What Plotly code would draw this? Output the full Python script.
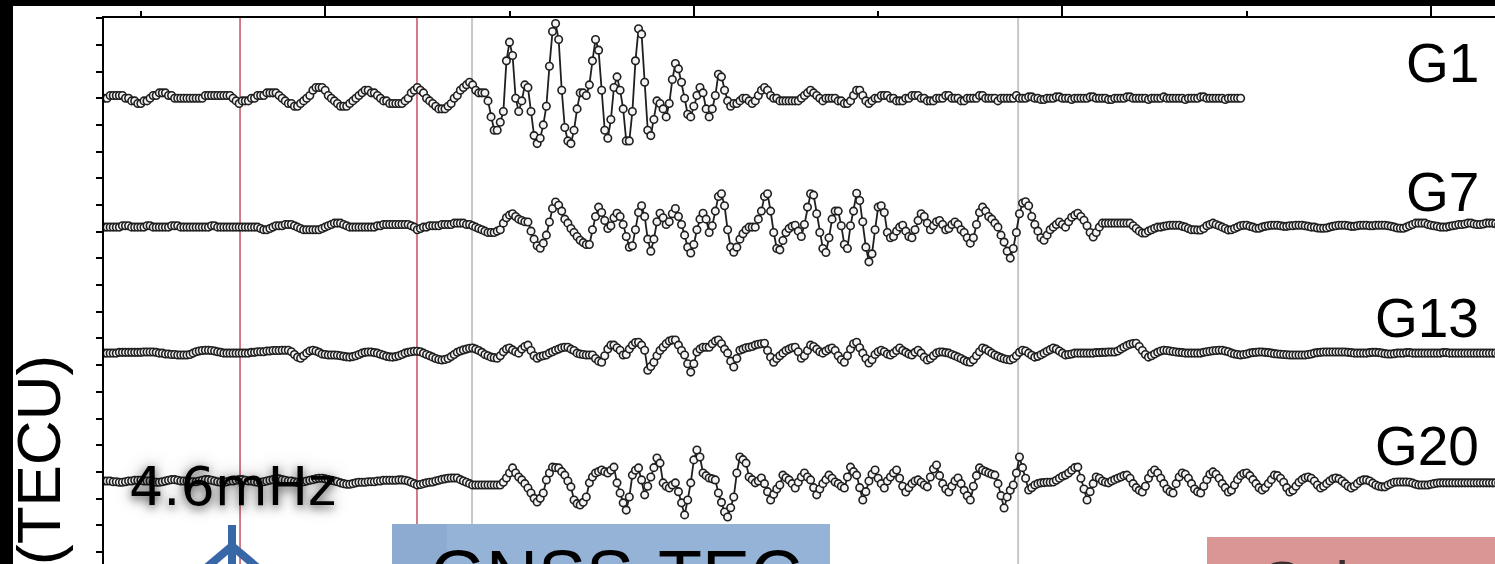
import plotly.graph_objects as go

# Sampling of the filtered TEC series (minutes)
T0_MIN = 12.0
DT_MIN = 0.25

# Filtered TEC changes, in units of 0.01 TECU, one value per 15-s epoch
g1_dtec = [
    0, 0, 1, 1, 1, 1, 1, 0, 0, -1,
    -1, -2, -2, -1, -1, 0, 1, 1, 2, 2,
    2, 1, 1, 0, 0, 0, 0, 0, 0, 0,
    0, 0, 0, 1, 1, 1, 1, 1, 1, 1,
    1, 1, 0, -1, -2, -1, -1, -1, 0, 0,
    1, 1, 1, 2, 2, 2, 2, 1, 0, -1,
    -2, -2, -3, -3, -2, -1, 0, 1, 3, 4,
    4, 4, 3, 1, 0, -1, -2, -3, -3, -3,
    -2, -1, 0, 1, 2, 3, 3, 2, 2, 1,
    0, -1, -1, -2, -2, -2, -2, -2, -1, 0,
    2, 3, 4, 3, 2, 0, -1, -2, -3, -4,
    -4, -4, -3, -2, 0, 1, 3, 4, 5, 6,
    5, 3, 2, 2, 2, -1, -7, -12, -12, -9,
    -5, 14, 21, 16, 0, -5, -1, 5, 4, -5,
    -14, -17, -15, -10, -3, 12, 25, 28, 22, 3,
    -11, -16, -17, -12, -4, 2, 2, 1, 5, 14,
    22, 18, 3, -12, -15, -8, 4, 8, 3, -4,
    -16, -16, -5, 14, 26, 24, 6, -12, -14, -8,
    -1, -2, -4, -7, -2, 7, 13, 11, 6, 0,
    -6, -7, -3, 1, 4, 2, -4, -7, -4, 1,
    9, 8, 3, -1, -3, -2, -2, -1, 0, 0,
    -1, -2, -1, 1, 3, 4, 3, 1, 0, 0,
    -1, -1, -1, -1, -1, -1, -1, 0, 1, 2,
    3, 2, 1, 0, -1, 0, 0, 0, 0, -1,
    -1, -2, -2, -1, 1, 3, 3, 1, -1, -2,
    -1, 0, 0, 1, 1, 1, 0, 0, -1, -1,
    -1, 0, 0, 1, 1, 1, 0, 0, -1, -1,
    -1, 0, 0, 0, 1, 1, 0, 0, 0, -1,
    -1, 0, 0, 0, 0, 1, 1, 0, 0, 0,
    0, -1, 0, 0, 0, 0, 0, 1, 0, 0,
    0, 0.5, 0.5, 0, 0, -0.5, -0.5, 0, 0, 0,
    0.5, 0.5, 0, 0, 0, -0.5, 0, 0, 0, 0,
    0, 0.5, 0.5, 0, 0, 0, 0, -0.5, -0.5, 0,
    0, 0, 0, 0.5, 0.5, 0, 0, 0, 0, 0,
    -0.5, 0, 0, 0, 0, 0.5, 0, 0, 0, 0,
    0, 0, -0.5, 0, 0, 0, 0, 0.5, 0.5, 0,
    0, 0, 0, 0, 0, -0.5, 0, 0, 0, 0, 0,
]

g7_dtec = [
    0, 0, 0, 0, 0, 0, 0.5, 0.5, 0.5, 0,
    0, 0, 0, 0, 0.5, 0.5, 0, 0, 0, 0,
    0, 0, 0.5, 0.5, 0.5, 0, 0, 0, 0, 0,
    0, 0, 0, 0, 0, 0.5, 0.5, 0, 0, 0,
    0, 0, 0, 0, 0, 0, 0, 0, 0, 0,
    0, -0.5, -1, -1, -0.5, 0, 0.5, 0.5, 0.5, 1,
    1, 1, 0.5, 0, -0.5, -1, -1, -1, -1, -1,
    -1, -0.5, 0, 0.5, 1, 1.5, 1.5, 1.5, 1, 0.5,
    0, 0, 0, 0, 0, 0, 0, 0, 0, 0.5,
    0.5, 1, 1, 1, 1, 1, 1, 1, 1, 1,
    0.5, 0, -1, -0.5, 0, 0, 0.5, 0.5, 0.5, 0.5,
    1, 1, 1, 1, 1.5, 1.5, 1.5, 1.5, 1, 1,
    0.5, 0, -0.5, -1, -1.5, -2, -2, -2, -1.5, -1,
    1.5, 3.5, 4.5, 5, 4, 3, 2.5, 2, 1.9, -1.5,
    -4.5, -7, -7.9, -6, -3, 1.9, 7, 9.4, 8.2, 6,
    3, 1.5, -0.5, -2, -3.5, -4.9, -5.8, -6.5, -6.5, -1,
    4, 7.5, 5.5, 2.5, -0.5, 0.5, 3.5, 5.2, 4, 1,
    -3.5, -7.5, -7, -1, 5.5, 8, 4, -4.5, -9, -4.5,
    2, 5.2, 3.5, 1, 2, 5, 7, 4, 1, -3,
    -7.5, -9.7, -6.5, -1, 3, 5.2, 3, -2, 0.5, 6,
    11.5, 12.5, 8, -1, -7.5, -9.4, -7.5, -4.5, -2.5, -1,
    0, 0, 0, 3, 6, 11.5, 12.5, 6, -2, -8,
    -8.5, -5, -2, -0.5, 0.3, 0.7, -1.5, -3.5, 1, 7.5,
    12.5, 12, 5, -2, -8, -9.5, -4, 3, 6, 6,
    0.5, -6.5, -8, 0.5, 6, 12.7, 10, 2, -7.5, -13,
    -10, -1, 7.5, 8, 5.5, -2, -4, -3.5, -1.5, 0,
    0.7, -1.5, -3.5, -4, -1, 2.5, 5, 4, 1.5, -1,
    0.5, 2, 2.5, 1, -1, -0.5, 1, 1.9, 1, -1,
    -2, -4, -6, -4, 1, 5.5, 7.5, 6, 4, 3,
    1.5, 0, -3, -5.6, -9, -11.6, -8, -2, 5, 9,
    9.5, 8, 4, 1, -1.5, -4, -4.9, -3, -1, 0,
    1, 1.9, 1, 0, 2, 3.7, 4.5, 5.2, 4, 2.6,
    0.5, -2, -3.7, -2, 0, 1.5, 1.5, 1.5, 1.5, 1.5,
    1.5, 1.5, 1.5, 1.5, 1.5, 0.5, -0.5, -1.5, -2.2, -2.2,
    -1.5, -1, -0.4, 0, 0, 0.3, 0.5, 0.7, 0.7, 0.7,
    0.7, 0.3, 0, -0.5, -1, -1, -1.1, -1.1, -0.5, 0.5,
    1, 1.5, 1, 0.5, 0, -0.5, -1.1, -1, -0.5, 0,
    0.5, 0.7, 0.7, 0.3, 0, -0.4, -0.4, 0, 0.3, 0.5,
    0.7, 0.7, 0.7, 0.5, 0.3, 0.3, 0.5, 0.5, 0.7, 0.7,
    0.7, 0.5, 0.3, 0, 0, -0.3, -0.4, -0.4, -0.3, 0,
    0.3, 0.5, 0.7, 0.7, 0.7, 0.5, 0.3, 0.3, 0.5, 0.7,
    0.7, 0.7, 0.5, 0.5, 0.7, 0.7, 0.7, 0.7, 0.5, 0.3,
    0, -0.3, -0.4, -0.4, 0, 0.5, 1, 1.5, 1.5, 1.5,
    1.5, 1, 0.7, 0.5, 0.3, 0, 0, 0, 0.3, 0.5,
    0.7, 1, 1, 1.2, 1.5, 1.5, 1.2, 1, 1, 1.2,
    1.5, 1.5, 1.5, 1.3, 1, 1,
]

g13_dtec = [
    0, 0, 0, 0, 0, 0.3, 0.3, 0.3, 0.3, 0.3,
    0.3, 0.3, 0.3, 0.4, 0.4, 0.4, 0.4, 0.3, 0, 0,
    -0.3, -0.3, -0.5, -0.5, -0.7, -0.7, -0.7, -0.7, -0.5, 0,
    0.5, 0.8, 1, 1.1, 1.1, 1, 0.8, 0.5, 0.3, 0,
    0, 0, 0, 0, 0, 0, 0, 0, 0.3, 0.3,
    0.5, 0.5, 0.5, 0.8, 0.8, 1, 1, 1, 1.1, 1.1,
    1.1, 0.5, -0.5, -1.5, -1.9, -1, 0, 0.8, 1.1, 0.8,
    0.3, -0.3, -0.5, -0.7, -0.7, -0.7, -0.8, -1, -1.2, -1.4,
    -1.5, -1.3, -1, -0.5, 0, 0.3, 0.4, 0.4, 0.2, 0,
    -0.4, -0.8, -1.2, -1.4, -1.5, -1.3, -1, -0.5, 0, 0.3,
    0.5, 0.7, 0.7, 0.5, 0, -0.5, -1, -1.5, -2, -2.4,
    -2.6, -2.4, -2, -1.3, -0.5, 0.3, 0.8, 1.2, 1.5, 1.8,
    1.9, 1.5, 1, 0.3, -0.5, -1, -1.5, -1.7, -1.9, -1,
    0.5, 1.5, 1.9, 1.2, 0.5, 0, 1.5, 2.5, 3, 1,
    -1, -1.9, -1.3, -1, -0.7, 0, 0.5, 1.1, 1.5, 2,
    2.2, 2.2, 1.5, 1, 0, -0.3, -0.5, -0.7, -0.7, -0.7,
    -2, -3, -3.4, -1, 1.5, 3, 3, 2, 1.1, -0.7,
    -0.5, 1.5, 3, 4, 4.1, 3, 1.1, -6.4, -5, -3.4,
    -1, 1, 2.2, 3.5, 4.5, 4.9, 4.9, 3, 1, -0.7,
    -4, -7.1, -4, 0.4, 1.5, 2.2, 2.2, 2.2, 3.5, 4.5,
    4.9, 3.5, 1.5, 0, -3, -5.2, -2, 1.1, 1.5, 2,
    2.2, 2.5, 3, 3.3, 3.5, 3.7, 1, -1.5, -3.4, -2,
    -1, 0, 1, 1.5, 2, 2.2, 0.5, -1.9, -1, 1,
    3, 2.5, 1.5, 0.5, 0, 0.8, 1.5, 1.9, 1, -1,
    -2.5, -3.4, -1, 1.5, 3.5, 4.1, 2, 0, -2, -3.7,
    -2.5, -0.5, 0.5, 1.1, 0.5, -0.3, -0.7, 0, 1, 1.9,
    1, 0.3, -0.3, -0.7, 0.3, 1.1, 0, -1.5, -2.6, -2,
    -1, 0, 0.4, 0.4, 0.2, 0, -0.5, -1, -1.5, -2,
    -2.7, -3.2, -3.4, -2.5, -1, 0.5, 1.9, 1.5, 0.8, 0,
    -0.7, -1.2, -1.7, -2.1, -2.4, -2.6, -2, -1, 0.3, 1.1,
    0.8, 0, -0.8, -1.5, -1.2, -0.6, 0, 0.7, 1.3, 1.9,
    1.5, 0.8, 0, -0.7, -0.5, -0.3, 0, 0, 0, 0,
    0, 0, 0, 0.2, 0.2, 0.3, 0.3, 0.4, 0.4, 0.4,
    0.8, 1.5, 2.2, 2.8, 3.3, 3.6, 3.7, 2.5, 1, -0.5,
    -1.5, -1, -0.3, 0.3, 0.8, 1.1, 1, 0.8, 0.6, 0.4,
    0.3, 0.2, 0, 0, 0, 0, 0, 0, 0.3, 0.5,
    0.7, 0.9, 1, 1.1, 1.1, 0.8, 0.5, 0, -0.3, -0.5,
    -0.7, -0.5, -0.3, 0, 0.2, 0.3, 0.4, 0.4, 0.3, 0.2,
    0, -0.2, -0.3, -0.4, -0.5, -0.6, -0.7, -0.7, -0.7, -0.7,
    -0.7, -0.7, -0.5, -0.3, 0, 0.2, 0.3, 0.4, 0.4, 0.4,
    0.4, 0.4, 0.4, 0.4, 0.4, 0.3, 0.2, 0, 0, 0,
    0, 0, 0.2, 0.3, 0.3, 0.2, 0, -0.2, -0.3, -0.3,
    -0.2, 0, 0, 0, 0.2, 0.2, 0, 0, 0, 0,
    0, 0, 0, 0, 0, 0, 0.2, 0.2, 0, 0,
    0, 0, 0, 0, 0, 0, 0, 0, 0, 0,
    0, 0, 0, 0, 0, 0,
]

g20_dtec = [
    0, 0, 0, -0.3, -0.3, -0.5, -0.5, -0.3, 0, 0,
    0.3, 0.3, 0.3, 0, 0, 0, -0.3, -0.5, -0.5, -0.3,
    0, 0.3, 0.5, 0.5, 0.3, 0, 0, 0, -0.3, -0.3,
    -0.3, 0, 0.3, 0.5, 0.5, 0.3, 0, -0.3, -0.5, -0.5,
    -0.3, 0, 0, 0.3, 0.5, 0.5, 0.3, 0, 0, -0.3,
    -0.5, -0.5, -0.3, 0, 0.3, 0.5, 0.8, 0.8, 0.5, 0.3,
    0, 0, -0.3, -0.5, -0.5, -0.3, 0, 0.3, 0.5, 0.8,
    1, 1, 0.8, 0.5, 0.3, 0, -0.3, -0.7, -1, -1.2,
    -1.2, -1, -0.7, -0.5, -0.5, -0.5, -0.3, -0.3, -0.3, 0,
    0, 0.3, 0.3, 0.3, 0.3, 0.3, 0.4, 0.4, 0.3, 0,
    -0.5, -1, -1.5, -1.3, -1, -0.7, -0.5, -0.4, 0, 0.3,
    0.6, 0.8, 1, 1.1, 1.1, 1.1, 0.5, 0, -0.5, -1,
    -1.5, -1.5, -1.5, -1.5, -1.5, -1.5, -1.5, -1.5, -1.5, -1.5,
    -0.5, 1.1, 3, 4.9, 3, 1.5, 0.4, -1, -2.6, -4.5,
    -6.5, -7.9, -6.5, -4.5, 0.4, 3, 5.2, 5, 4.9, 3.5,
    2.2, 0, -2.2, -7.1, -8.5, -9, -8, -6, -0.7, 1.5,
    3, 3.5, 4.1, 3.5, 3, 4, 5.2, -0.7, -4.5, -8.2,
    -10.9, -6, 2.2, 4, 4.9, 0.4, -5.2, -2, 1.5, 5,
    8.6, 6.7, -0.7, -2, -2.6, -1.5, -0.7, -4, -8.2, -12.7,
    -7.1, -0.7, 7.9, 11.6, 9, 3, 2, 1.1, 0.8, 0.4,
    -4.5, -8, -11.6, -13.5, -10, -6, 3, 9, 8, 6.7,
    1.5, 0.5, -0.7, 0, 1.1, -1, -4, -7.1, -5, -3,
    -1.5, 2.2, 1.2, 0.4, -1, -2.6, -0.5, 1.5, 3, 1.5,
    0.4, -2.5, -5.2, -3, -1, 0.5, 2.2, 1, -0.4, -1,
    -2, -2.6, 1.5, 5.2, 3.5, 2.2, -2.5, -7.1, -4, 0,
    2.5, 4.1, 1, -1, -2.6, 0, 1.5, 3, 4.1, 1,
    -2, -4.1, -2.5, -1, 0, 0.4, -0.5, -1.5, -2.2, 1.5,
    4.5, 6, 2, -1, -3, -4.1, -2, 0, 1.1, -1,
    -3.5, -5.5, -7.1, -2, 2, 4.9, 4, 3.5, 3, 2.5,
    2.2, -1, -5.5, -10.1, -6, -3.5, -1.5, 3, 9, 5,
    1, -3.4, -2.5, -1.5, -1, -0.7, -0.6, -0.5, -0.5, -0.4,
    0.3, 1, 1.8, 2.2, 3, 4, 5, 5.2, 1, -3,
    -7.1, -4, -1, 1.5, 1, 0, -0.5, -0.7, 0, 0.5,
    1, 1.5, 2, 2.2, 1, -1, -2.5, -3.5, -4.1, -2,
    1, 3, 4.1, 3, 1, -1, -3, -4, -4.5, -1,
    1.5, 3, 2.5, 1, -1, -3, -4, -4.5, -2, 0.5,
    2.5, 3.4, 2.5, 1, -1, -2.5, -4.1, -3.5, -1.5, 0.5,
    2, 2.8, 3, 2, 0.5, -1, -2.5, -3.4, -2.5, -1,
    0.5, 2.2, 2, 1, -0.5, -2.5, -4.1, -3.5, -2, -0.5,
    0.5, 1.2, 1.5, 1, 0, -1.5, -2.6, -2, -1, 0,
    0.8, 1.1, 0.8, 0, -1, -2, -2.6, -2, -1, 0,
    0.4, 0.4, 0, -0.8, -1.5, -2, -2.2, -2.2, -1.5, -1,
    -0.5, -0.4, -0.4, -0.4, -0.4, -0.5, -0.8, -1.2, -1.5, -1.5,
    -1.5, -1.5, -1.2, -1, -0.8, -0.7, -0.7, -0.7, -0.7, -0.7,
    -0.7, -0.7, -0.7, -0.7, -0.7, -0.7, -0.7, -0.7, -0.7, -0.7,
    -0.7, -0.7, -0.7, -0.7, -0.7, -0.7,
]

satellites = ["G1", "G7", "G13", "G20"]
series = [g1_dtec, g7_dtec, g13_dtec, g20_dtec]
baseline_tecu = [0.0, -0.483, -0.955, -1.434]   # vertical stacking offsets

event_lines_red = [23.07, 37.47]    # minutes
event_lines_gray = [41.95, 86.39]   # minutes

X_RANGE = [12.0, 125.2]
Y_RANGE = [-1.745, 0.3005]

INK = "#1f1f1f"

fig = go.Figure()

for name, vals, base in zip(satellites, series, baseline_tecu):
    t = [T0_MIN + DT_MIN * k for k in range(len(vals))]
    y = [base + v / 100.0 for v in vals]
    fig.add_trace(go.Scatter(
        x=t, y=y, name=name, mode="lines+markers",
        line=dict(color=INK, width=1.8),
        marker=dict(symbol="circle", size=7.5, color="#f4f4f4",
                    line=dict(color=INK, width=1.6)),
        hoverinfo="skip",
    ))

shapes = []
for t in event_lines_red:
    shapes.append(dict(type="line", xref="x", yref="paper", x0=t, x1=t, y0=0, y1=1,
                       line=dict(color="#BE4655", width=1.4), layer="below"))
for t in event_lines_gray:
    shapes.append(dict(type="line", xref="x", yref="paper", x0=t, x1=t, y0=0, y1=1,
                       line=dict(color="#C8C8C8", width=2), layer="below"))

# helpers to place page elements in pixel terms
W, H = 1495, 564
ML, MT = 104, 18
PW, PH = W - ML, H - MT


def px(xp):
    return (xp - ML) / PW


def py(yp):
    return 1 - (yp - MT) / PH


# dark frame of the slide
shapes.append(dict(type="rect", xref="paper", yref="paper",
                   x0=px(-5), x1=px(13), y0=py(H + 5), y1=py(-5),
                   fillcolor="black", line=dict(width=0), layer="above"))
shapes.append(dict(type="rect", xref="paper", yref="paper",
                   x0=px(-5), x1=px(W + 5), y0=py(6), y1=py(-5),
                   fillcolor="black", line=dict(width=0), layer="above"))

# method boxes
shapes.append(dict(type="rect", xref="paper", yref="paper",
                   x0=px(392), x1=px(830), y0=py(H + 5), y1=py(524),
                   fillcolor="#95B3D7", line=dict(width=0), layer="above"))
shapes.append(dict(type="rect", xref="paper", yref="paper",
                   x0=px(392), x1=px(447), y0=py(H + 5), y1=py(524),
                   fillcolor="#8DAAD0", line=dict(width=0), layer="above"))
shapes.append(dict(type="rect", xref="paper", yref="paper",
                   x0=px(1207), x1=px(W + 5), y0=py(H + 5), y1=py(537),
                   fillcolor="#D99694", line=dict(width=0), layer="above"))

# blue marker glyph under the first event line
ARROW = "#3767A6"
shapes.append(dict(type="line", xref="paper", yref="paper",
                   x0=px(232), x1=px(232), y0=py(525), y1=py(H + 5),
                   line=dict(color=ARROW, width=8), layer="above"))
shapes.append(dict(type="line", xref="paper", yref="paper",
                   x0=px(232), x1=px(206), y0=py(546), y1=py(H + 4),
                   line=dict(color=ARROW, width=8), layer="above"))
shapes.append(dict(type="line", xref="paper", yref="paper",
                   x0=px(232), x1=px(258), y0=py(546), y1=py(H + 4),
                   line=dict(color=ARROW, width=8), layer="above"))

annotations = []
for name, base in zip(satellites, baseline_tecu):
    annotations.append(dict(
        text=name, xref="paper", yref="y", x=px(1481), y=base + 0.131,
        xanchor="right", yanchor="middle", showarrow=False,
        font=dict(family="Liberation Sans, Arial", size=55, color="black"),
    ))

annotations.append(dict(
    text="(TECU)", xref="paper", yref="paper", x=px(38), y=py(460),
    xanchor="center", yanchor="middle", textangle=-90, showarrow=False,
    font=dict(family="Liberation Sans, Arial", size=62, color="black"),
))
annotations.append(dict(
    text="4.6mHz", xref="paper", yref="paper", x=px(232), y=py(486),
    xanchor="center", yanchor="middle", showarrow=False,
    font=dict(family="DejaVu Sans", size=54, color="black",
              shadow="0px 3px 10px rgba(0,0,0,0.6), 0px 0px 18px rgba(0,0,0,0.35)"),
))
annotations.append(dict(
    text="GNSS-TEC", xref="paper", yref="paper", x=px(428), y=py(576),
    xanchor="left", yanchor="middle", showarrow=False,
    font=dict(family="Liberation Sans, Arial", size=72, color="black"),
))
annotations.append(dict(
    text="Seismometer", xref="paper", yref="paper", x=px(1260), y=py(582),
    xanchor="left", yanchor="middle", showarrow=False,
    font=dict(family="Liberation Sans, Arial", size=60, color="#3A2E2E"),
))

fig.update_layout(
    width=W, height=H,
    margin=dict(l=ML, r=0, t=MT, b=0),
    paper_bgcolor="white", plot_bgcolor="white",
    showlegend=False,
    shapes=shapes,
    annotations=annotations,
    xaxis=dict(
        range=X_RANGE, side="top", showgrid=False, zeroline=False,
        showline=True, linecolor="black", linewidth=2,
        ticks="outside", ticklen=12, tickwidth=1.5, tickcolor="black",
        tickmode="linear", tick0=0, dtick=30, showticklabels=False,
        minor=dict(ticks="outside", ticklen=5, tickwidth=1.5, tickcolor="black",
                   tickmode="linear", tick0=0, dtick=15, showgrid=False),
    ),
    yaxis=dict(
        range=Y_RANGE, showgrid=False, zeroline=False,
        showline=True, linecolor="black", linewidth=2,
        ticks="outside", ticklen=6, tickwidth=1.5, tickcolor="black",
        tickmode="linear", tick0=0, dtick=0.1, showticklabels=False,
    ),
)

fig.write_html("out.html")
